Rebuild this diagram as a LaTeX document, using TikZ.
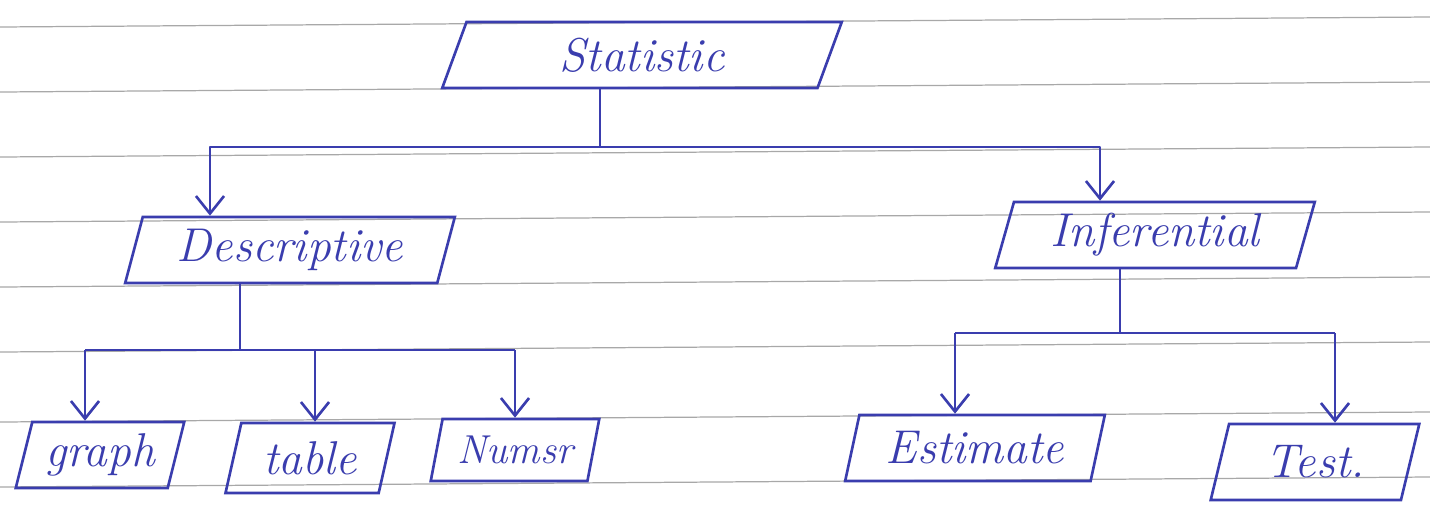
\documentclass[tikz,border=0pt]{standalone}
\usetikzlibrary{shapes.geometric,arrows.meta}
\definecolor{ink}{HTML}{3A3DAE}
\definecolor{rule}{HTML}{A8A8A8}
\tikzset{
  box/.style={draw=ink, line width=1.5pt, text=ink, shape=trapezium,
    trapezium left angle=74, trapezium right angle=106, trapezium stretches=true,
    inner sep=2pt, font=\fontsize{27}{29}\selectfont\itshape},
  small/.style={font=\fontsize{23}{25}\selectfont\itshape},
  link/.style={draw=ink, line width=1.5pt, line join=round},
  tip/.style={link, -{Straight Barb[length=10pt,width=16pt,line width=1.5pt]}},
  ruling/.style={draw=rule, line width=0.7pt}
}
\begin{document}
\begin{tikzpicture}[x=0.02cm, y=-0.02cm]
  \useasboundingbox[fill=white] (0,0) rectangle (1430,518);
  % ruled paper
  \foreach \y in {27,92,157,222,287,352,422,487}
    \draw[ruling] (0,\y) -- (1430,\y-10);

  % boxes
  \node[box, minimum width=8cm, minimum height=1.32cm] (stat) at (642,55) {Statistic};
  \node[box, minimum width=6.6cm, minimum height=1.32cm] (desc) at (290,250) {Descriptive};
  \node[box, minimum width=6.4cm, minimum height=1.32cm] (inf) at (1155,235) {Inferential};
  \node[box, minimum width=3.4cm, minimum height=1.32cm] (graph) at (100,455) {graph};
  \node[box, minimum width=3.4cm, minimum height=1.4cm] (table) at (310,458) {table};
  \node[box, small, minimum width=3.4cm, minimum height=1.24cm] (num) at (515,450) {Numsr};
  \node[box, minimum width=5.2cm, minimum height=1.32cm] (est) at (975,448) {Estimate};
  \node[box, minimum width=4.2cm, minimum height=1.52cm] (test) at (1315,462) {Test.};

  % junction points
  \coordinate (j1) at (600,147);
  \coordinate (dL) at (210,147);
  \coordinate (dR) at (1100,147);
  \coordinate (j2) at (240,350);
  \coordinate (g1) at (85,350);
  \coordinate (g2) at (315,350);
  \coordinate (g3) at (515,350);
  \coordinate (j3) at (1120,333);
  \coordinate (e1) at (955,333);
  \coordinate (e2) at (1335,333);

  % Statistic -> Descriptive / Inferential
  \draw[link] (stat.south -| j1) -- (j1);
  \draw[tip] (j1) -- (dL) -- (dL |- desc.north);
  \draw[tip] (j1) -- (dR) -- (dR |- inf.north);

  % Descriptive -> graph / table / Numsr
  \draw[link] (desc.south -| j2) -- (j2);
  \draw[link] (g1) -- (g3);
  \draw[tip] (g1) -- (g1 |- graph.north);
  \draw[tip] (g2) -- (g2 |- table.north);
  \draw[tip] (g3) -- (g3 |- num.north);

  % Inferential -> Estimate / Test
  \draw[link] (inf.south -| j3) -- (j3);
  \draw[link] (e1) -- (e2);
  \draw[tip] (e1) -- (e1 |- est.north);
  \draw[tip] (e2) -- (e2 |- test.north);
\end{tikzpicture}
\end{document}
